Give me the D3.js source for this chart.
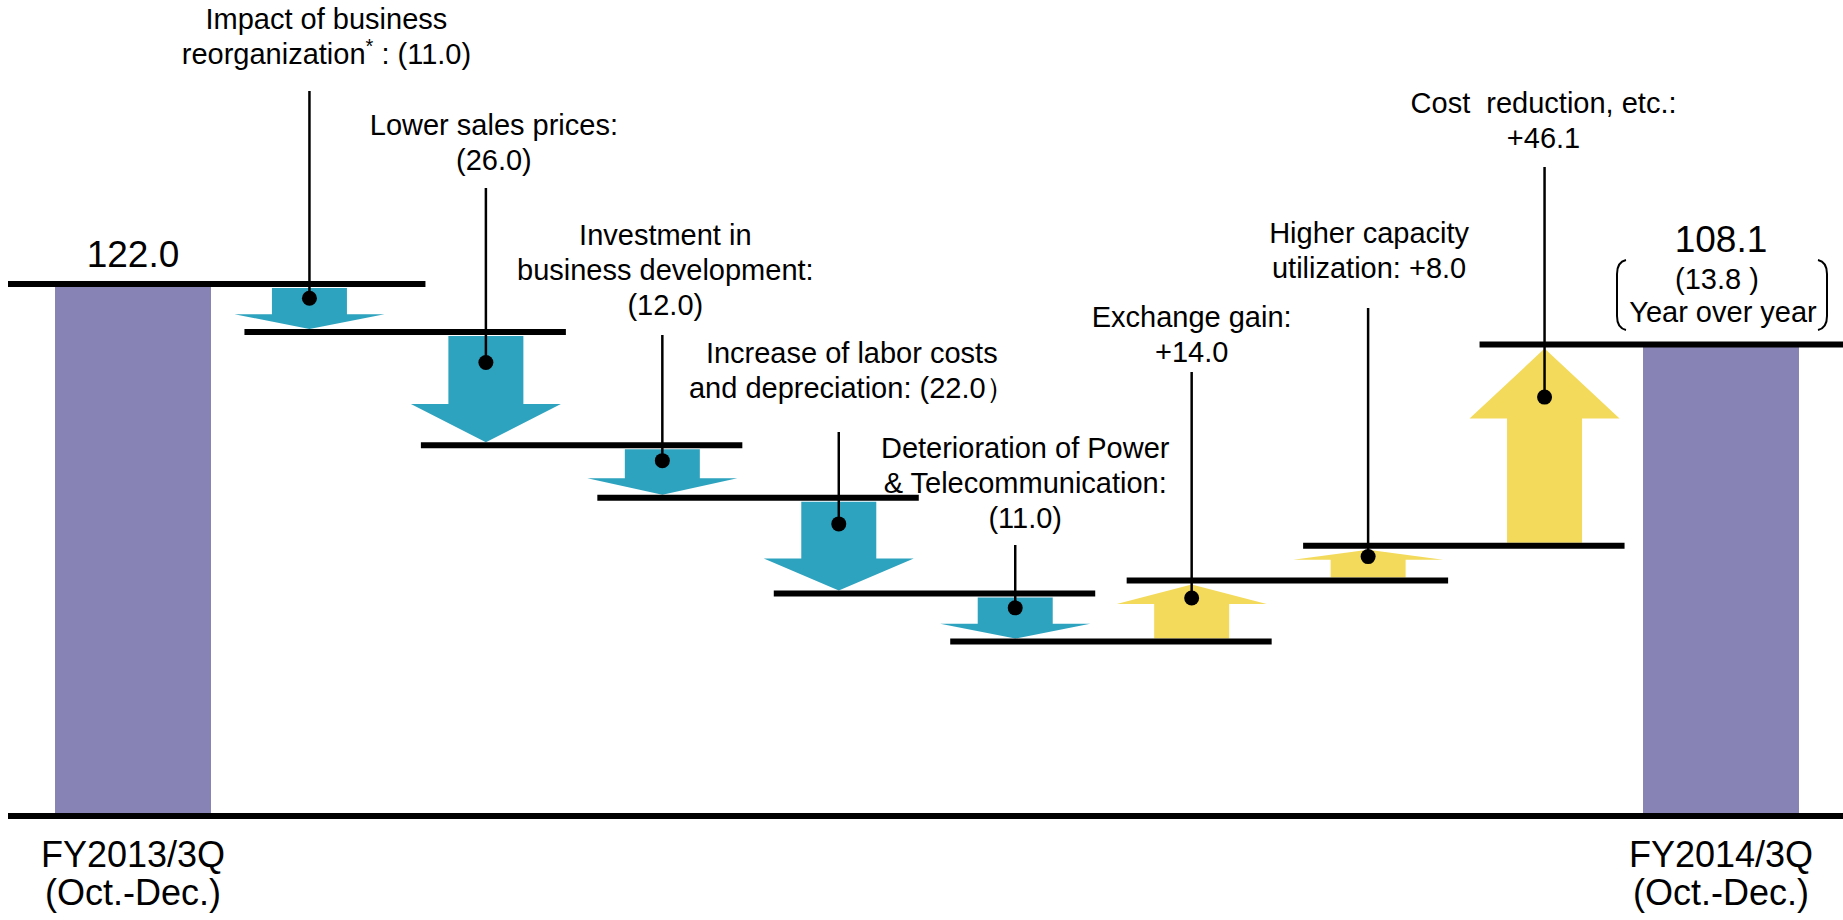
<!DOCTYPE html>
<html>
<head>
<meta charset="utf-8">
<title>Operating income bridge FY2013/3Q - FY2014/3Q</title>
<script src="https://d3js.org/d3.v7.min.js"></script>
<style>
  body { margin: 0; background: #fff; }
  text { font-family: "Liberation Sans", Arial, sans-serif; fill: #000; white-space: pre; }
</style>
</head>
<body>
<div id="vis"></div>
<script>
// ---- data ----
var periodNames = ["FY2013/3Q", "FY2014/3Q"];
var periodSub = "(Oct.-Dec.)";
var startValue = 122.0;
var endValue = 108.1;
var yoyText = "(13.8 )";
var yoyCaption = "Year over year";

var stepValues = [-11.0, -26.0, -12.0, -22.0, -11.0, 14.0, 8.0, 46.1];
// {a} is replaced by the absolute value of the step
var stepLabels = [
  ["Impact of business", "reorganization* : ({a})"],
  ["Lower sales prices:", "({a})"],
  ["Investment in", "business development:", "({a})"],
  ["Increase of labor costs", "and depreciation: ({a}）"],
  ["Deterioration of Power", "& Telecommunication:", "({a})"],
  ["Exchange gain:", "+{a}"],
  ["Higher capacity", "utilization: +{a}"],
  ["Cost  reduction, etc.:", "+{a}"]
];

// ---- layout ----
var width = 1843, height = 920;
var purple = "#8783b4", teal = "#2ea3bf", yellow = "#f3da5b";
// label placement per step: first baseline, x shift from leader, leader top
var labelPos = [
  {ty: 29,  dx: 17, lt: 91},
  {ty: 135, dx: 8,  lt: 188},
  {ty: 245, dx: 3,  lt: 335},
  {ty: 363, dx: 13, lt: 432},
  {ty: 458, dx: 10, lt: 545},
  {ty: 327, dx: 0,  lt: 372},
  {ty: 243, dx: 1,  lt: 308},
  {ty: 113, dx: -1, lt: 167}
];
var lineGap = 35;

var svg = d3.select("#vis").append("svg")
  .attr("width", width)
  .attr("height", height);

var x = d3.scalePoint()
  .domain(d3.range(stepValues.length + 2))
  .range([133, 1721]);

var y = d3.scaleLinear()
  .domain([0, startValue])
  .range([816, 284]);

// running levels
var levels = [startValue];
stepValues.forEach(function (v, i) { levels.push(levels[i] + v); });

var barW = 156, bodyHalf = 37.5, headHalf = 75;

// start / end bars
var bars = [{i: 0, v: startValue}, {i: stepValues.length + 1, v: endValue}];
svg.append("g").selectAll("rect")
  .data(bars)
  .enter().append("rect")
  .attr("x", function (d) { return x(d.i) - barW / 2; })
  .attr("y", function (d) { return y(d.v); })
  .attr("width", barW)
  .attr("height", function (d) { return y(0) - y(d.v); })
  .attr("fill", purple);

// arrows
var steps = stepValues.map(function (v, i) {
  var from = levels[i], to = levels[i + 1];
  var s = {i: i, v: v, cx: x(i + 1)};
  if (v < 0) {
    s.top = y(from) + 4; s.bot = y(to) - 3;
  } else {
    s.top = y(to) + 4; s.bot = y(from) - 3;
  }
  s.len = s.bot - s.top;
  s.dotY = s.top + 0.25 * s.len;
  return s;
});

function arrowPath(s) {
  var h = 0.36 * s.len, c = s.cx, p;
  if (s.v < 0) {
    p = [[c - bodyHalf, s.top], [c + bodyHalf, s.top], [c + bodyHalf, s.bot - h],
         [c + headHalf, s.bot - h], [c, s.bot], [c - headHalf, s.bot - h], [c - bodyHalf, s.bot - h]];
  } else {
    p = [[c - bodyHalf, s.bot], [c + bodyHalf, s.bot], [c + bodyHalf, s.top + h],
         [c + headHalf, s.top + h], [c, s.top], [c - headHalf, s.top + h], [c - bodyHalf, s.top + h]];
  }
  return "M" + p.join("L") + "Z";
}

svg.append("g").selectAll("path")
  .data(steps)
  .enter().append("path")
  .attr("d", arrowPath)
  .attr("fill", function (d) { return d.v < 0 ? teal : yellow; });

// level lines
var levelLines = levels.map(function (lv, k) {
  var x1 = k === 0 ? x(0) - 125 : x(k) - 65;
  var x2 = k === levels.length - 1 ? width : x(k + 1) + 80;
  if (k === 0) x2 = x(1) + 116;
  return {y: y(lv), x1: x1, x2: x2};
});

svg.append("g").selectAll("line")
  .data(levelLines)
  .enter().append("line")
  .attr("x1", function (d) { return d.x1; })
  .attr("x2", function (d) { return d.x2; })
  .attr("y1", function (d) { return d.y; })
  .attr("y2", function (d) { return d.y; })
  .attr("stroke", "#000")
  .attr("stroke-width", 6);

// baseline
svg.append("line")
  .attr("x1", 8).attr("x2", width)
  .attr("y1", y(0)).attr("y2", y(0))
  .attr("stroke", "#000")
  .attr("stroke-width", 6);

// leaders and dots
svg.append("g").selectAll("line")
  .data(steps)
  .enter().append("line")
  .attr("x1", function (d) { return d.cx; })
  .attr("x2", function (d) { return d.cx; })
  .attr("y1", function (d) { return labelPos[d.i].lt; })
  .attr("y2", function (d) { return d.dotY; })
  .attr("stroke", "#000")
  .attr("stroke-width", 2.5);

svg.append("g").selectAll("circle")
  .data(steps)
  .enter().append("circle")
  .attr("cx", function (d) { return d.cx; })
  .attr("cy", function (d) { return d.dotY; })
  .attr("r", 7.5)
  .attr("fill", "#000");

// step labels
steps.forEach(function (s) {
  var pos = labelPos[s.i];
  var t = svg.append("text")
    .attr("text-anchor", "middle")
    .attr("font-size", 29)
    .attr("xml:space", "preserve");
  stepLabels[s.i].forEach(function (ln, j) {
    var txt = ln.replace("{a}", Math.abs(s.v).toFixed(1));
    var parts = txt.split("*");
    var first = t.append("tspan")
      .attr("x", s.cx + pos.dx)
      .attr("y", pos.ty + j * lineGap)
      .text(parts[0]);
    if (parts.length > 1) {
      t.append("tspan").attr("dy", -11).attr("font-size", 20).text("*");
      t.append("tspan").attr("dy", 11).text(parts[1]);
    }
  });
});

// value labels above bars
var fmt = d3.format(".1f");
svg.append("text")
  .attr("x", x(0)).attr("y", 267)
  .attr("text-anchor", "middle").attr("font-size", 37)
  .text(fmt(startValue));

var xe = x(stepValues.length + 1);
svg.append("text")
  .attr("x", xe).attr("y", 252)
  .attr("text-anchor", "middle").attr("font-size", 37)
  .text(fmt(endValue));
svg.append("text")
  .attr("x", xe - 4).attr("y", 289)
  .attr("text-anchor", "middle").attr("font-size", 29)
  .text(yoyText);
svg.append("text")
  .attr("x", xe + 2).attr("y", 322)
  .attr("text-anchor", "middle").attr("font-size", 29)
  .text(yoyCaption);

// bracket round the year-over-year note
var bl = xe - 104, br = xe + 106, bt = 260, bb = 330;
svg.append("path")
  .attr("d", "M" + (bl + 9) + "," + bt + " Q" + bl + "," + (bt + 2) + " " + bl + "," + (bt + 14) +
             " L" + bl + "," + (bb - 14) + " Q" + bl + "," + (bb - 2) + " " + (bl + 9) + "," + bb)
  .attr("fill", "none").attr("stroke", "#000").attr("stroke-width", 2);
svg.append("path")
  .attr("d", "M" + (br - 9) + "," + bt + " Q" + br + "," + (bt + 2) + " " + br + "," + (bt + 14) +
             " L" + br + "," + (bb - 14) + " Q" + br + "," + (bb - 2) + " " + (br - 9) + "," + bb)
  .attr("fill", "none").attr("stroke", "#000").attr("stroke-width", 2);

// period labels
[0, stepValues.length + 1].forEach(function (idx, k) {
  svg.append("text")
    .attr("x", x(idx)).attr("y", 867)
    .attr("text-anchor", "middle").attr("font-size", 36)
    .text(periodNames[k]);
  svg.append("text")
    .attr("x", x(idx)).attr("y", 905)
    .attr("text-anchor", "middle").attr("font-size", 36)
    .text(periodSub);
});
</script>
</body>
</html>
